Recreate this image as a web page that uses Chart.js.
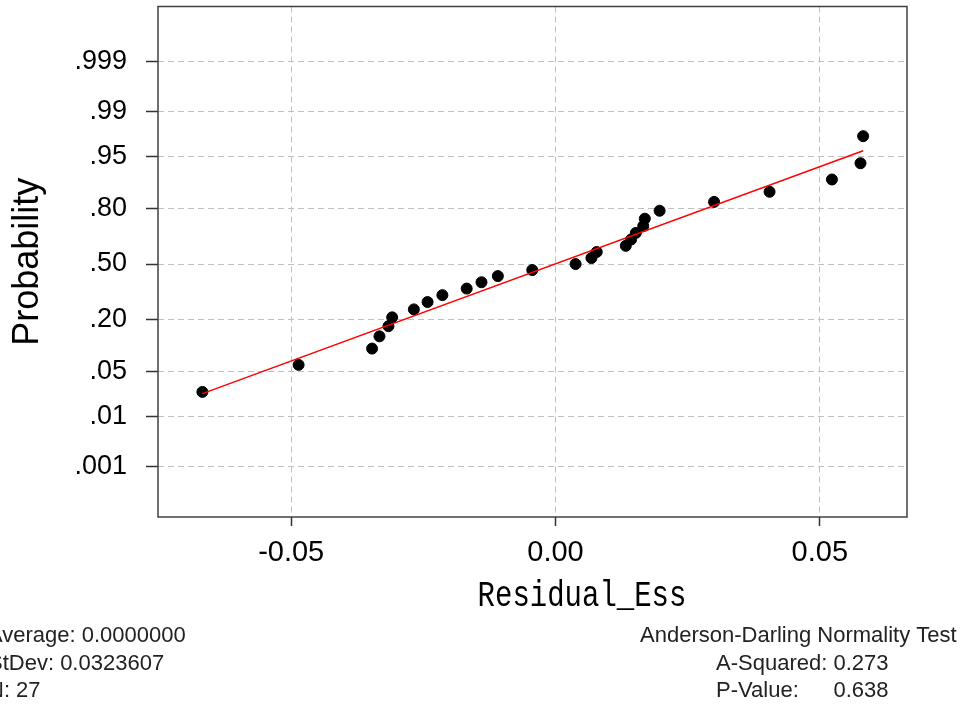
<!DOCTYPE html>
<html>
<head>
<meta charset="utf-8">
<script src="https://cdn.jsdelivr.net/npm/chart.js@4"></script>
<style>
  html, body { margin: 0; padding: 0; background: #fff; }
  #wrap { width: 970px; height: 707px; }
</style>
</head>
<body>
<div id="wrap"><canvas id="plot"></canvas></div>
<script>
// Residuals and their plotted probabilities
const residuals = [-0.0668, -0.0486, -0.0347, -0.0333, -0.0316, -0.0309, -0.0268, -0.0242, -0.0214,
  -0.0168, -0.0140, -0.0109, -0.0044, 0.0038, 0.0068, 0.0078, 0.0133, 0.0143,
  0.0152, 0.0166, 0.0169, 0.0197, 0.0300, 0.0405, 0.0523, 0.0577, 0.0582];
const probabilities = [0.0255, 0.062, 0.0985, 0.135, 0.1715, 0.208, 0.2445, 0.281, 0.3175,
  0.354, 0.3905, 0.427, 0.4635, 0.50, 0.5365, 0.573, 0.6095, 0.646,
  0.6825, 0.719, 0.7555, 0.792, 0.8285, 0.865, 0.9015, 0.938, 0.9745];

// fitted line, end points
const fitResiduals = [-0.0668, 0.0582];
const fitProbabilities = [0.024, 0.958];

// axis ticks
const probTicks = [0.001, 0.01, 0.05, 0.20, 0.50, 0.80, 0.95, 0.99, 0.999];
const probLabels = ['.001', '.01', '.05', '.20', '.50', '.80', '.95', '.99', '.999'];
const xTicks = [-0.05, 0, 0.05];
const xLabels = ['-0.05', '0.00', '0.05'];
const xTitle = 'Residual_Ess';

// text under the plot
const statsLeft = ['Average: 0.0000000', 'StDev: 0.0323607', 'N: 27'];
const testTitle = 'Anderson-Darling Normality Test';
const aSquared = 'A-Squared: 0.273';
const pValue = '0.638';

// inverse of the normal CDF (Acklam), maps probability to the axis position
function invNorm(p) {
    const a = [-3.969683028665376e+01, 2.209460984245205e+02, -2.759285104469687e+02,
        1.383577518672690e+02, -3.066479806614716e+01, 2.506628277459239e+00];
    const b = [-5.447609879822406e+01, 1.615858368580409e+02, -1.556989798598866e+02,
        6.680131188771972e+01, -1.328068155288572e+01];
    const c = [-7.784894002430293e-03, -3.223964580411365e-01, -2.400758277161838e+00,
        -2.549732539343734e+00, 4.374664141464968e+00, 2.938163982698783e+00];
    const d = [7.784695709041462e-03, 3.224671290700398e-01, 2.445134137142996e+00,
        3.754408661907416e+00];
    const pLow = 0.02425;
    let q, r;
    if (p < pLow) {
        q = Math.sqrt(-2 * Math.log(p));
        return (((((c[0]*q+c[1])*q+c[2])*q+c[3])*q+c[4])*q+c[5]) /
            ((((d[0]*q+d[1])*q+d[2])*q+d[3])*q+1);
    }
    if (p > 1 - pLow) {
        q = Math.sqrt(-2 * Math.log(1 - p));
        return -(((((c[0]*q+c[1])*q+c[2])*q+c[3])*q+c[4])*q+c[5]) /
            ((((d[0]*q+d[1])*q+d[2])*q+d[3])*q+1);
    }
    q = p - 0.5;
    r = q * q;
    return (((((a[0]*r+a[1])*r+a[2])*r+a[3])*r+a[4])*r+a[5])*q /
        (((((b[0]*r+b[1])*r+b[2])*r+b[3])*r+b[4])*r+1);
}

const points = residuals.map((x, i) => ({ x: x, y: invNorm(probabilities[i]) }));
const fitLine = fitResiduals.map((x, i) => ({ x: x, y: invNorm(fitProbabilities[i]) }));

// frame round the plot area, x title and the stats text below
const extras = {
    id: 'extras',
    afterDraw(chart) {
        const ctx = chart.ctx;
        const area = chart.chartArea;
        ctx.save();
        ctx.strokeStyle = '#404040';
        ctx.lineWidth = 1.5;
        ctx.strokeRect(area.left, area.top, area.right - area.left, area.bottom - area.top);

        // x axis title, taller narrow monospace look
        ctx.save();
        ctx.translate(582, 596);
        ctx.scale(1, 1.25);
        ctx.font = '29px "Liberation Mono", monospace';
        ctx.fillStyle = '#000';
        ctx.textAlign = 'center';
        ctx.textBaseline = 'middle';
        ctx.fillText(xTitle, 0, 0);
        ctx.restore();

        ctx.font = '22px "Liberation Sans", Arial, sans-serif';
        ctx.fillStyle = '#222';
        ctx.textBaseline = 'middle';
        ctx.textAlign = 'left';
        const rows = [636, 663.5, 691];
        statsLeft.forEach((t, i) => ctx.fillText(t, -12, rows[i]));
        ctx.fillText(testTitle, 640, rows[0]);
        ctx.fillText(aSquared, 716, rows[1]);
        ctx.fillText('P-Value:', 716, rows[2]);
        ctx.textAlign = 'right';
        ctx.fillText(pValue, 716 + ctx.measureText(aSquared).width, rows[2]);
        ctx.restore();
    }
};

const ctx = document.getElementById('plot').getContext('2d');
new Chart(ctx, {
    type: 'scatter',
    data: {
        datasets: [
            {
                label: 'Fit',
                type: 'line',
                data: fitLine,
                borderColor: '#ff0000',
                borderWidth: 1.5,
                pointRadius: 0,
                fill: false
            },
            {
                label: 'Residual_Ess',
                data: points,
                backgroundColor: '#000',
                borderColor: '#000',
                pointRadius: 5.5,
                pointHoverRadius: 5.5
            }
        ]
    },
    options: {
        responsive: true,
        maintainAspectRatio: false,
        animation: false,
        layout: { padding: { top: 5, right: 63, bottom: 87, left: 0 } },
        plugins: {
            legend: { display: false },
            tooltip: { enabled: false }
        },
        scales: {
            x: {
                type: 'linear',
                min: -0.0752,
                max: 0.0665,
                afterBuildTicks: scale => { scale.ticks = xTicks.map(v => ({ value: v })); },
                afterFit: scale => { scale.height = 103; scale.paddingLeft = 0; scale.paddingRight = 0; },
                border: { display: false, dash: [6, 4] },
                grid: {
                    color: '#c0c0c0',
                    tickColor: '#333',
                    tickLength: 9,
                    tickBorderDash: [],
                    tickWidth: 1.5
                },
                ticks: {
                    autoSkip: false,
                    maxRotation: 0,
                    padding: 10,
                    color: '#000',
                    font: { family: '"Liberation Sans Narrow", "Arial Narrow", "Liberation Sans"', size: 29 },
                    callback: (v, i) => xLabels[i]
                },
                title: { display: false }
            },
            y: {
                type: 'linear',
                min: -3.86,
                max: 3.93,
                afterBuildTicks: scale => { scale.ticks = probTicks.map(p => ({ value: invNorm(p) })); },
                afterFit: scale => { scale.width = 158; scale.paddingTop = 0; scale.paddingBottom = 0; },
                border: { display: false, dash: [6, 4] },
                grid: {
                    color: '#c0c0c0',
                    tickColor: '#333',
                    tickLength: 12,
                    tickBorderDash: [],
                    tickWidth: 1.5
                },
                ticks: {
                    autoSkip: false,
                    padding: 19,
                    color: '#000',
                    font: { family: '"Liberation Sans", Arial, sans-serif', size: 27 },
                    callback: (v, i) => probLabels[i]
                },
                title: {
                    display: true,
                    text: 'Probability',
                    color: '#000',
                    font: { family: '"Liberation Sans", Arial, sans-serif', size: 36 },
                    padding: { top: 6, bottom: 0 }
                }
            }
        }
    },
    plugins: [extras]
});
</script>
</body>
</html>
